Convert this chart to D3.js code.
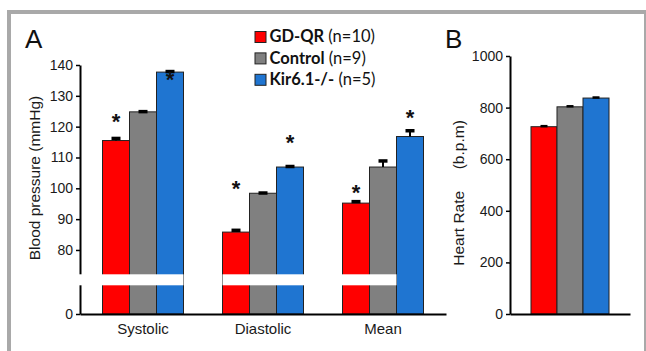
<!DOCTYPE html>
<html>
<head>
<meta charset="utf-8">
<script src="https://cdn.jsdelivr.net/npm/d3@7"></script>
<style>
    body { margin: 0; background: #fff; }
    svg { display: block; font-family: "Liberation Sans", Arial, sans-serif; }
</style>
</head>
<body>
<div class="container"></div>
<script>
// values
var groups = ["Systolic", "Diastolic", "Mean"];
var series = ["GD-QR", "Control", "Kir6.1-/-"];
var seriesN = ["(n=10)", "(n=9)", "(n=5)"];
var colors = ["#ff0000", "#808080", "#1f75d1"];

var bpMeans = [
    [115.5, 124.8, 137.7],   // Systolic
    [85.8, 98.4, 106.9],     // Diastolic
    [95.2, 106.9, 116.8]     // Mean
];
var bpErrors = [
    [1.0, 0.4, 0.5],
    [0.9, 0.4, 0.5],
    [0.8, 2.3, 2.2]
];
var bpTicks = [0, 80, 90, 100, 110, 120, 130, 140];

// significance stars: group index, series index, level (mmHg)
var starGroup = [0, 0, 1, 1, 2, 2];
var starSeries = [0, 2, 0, 2, 0, 2];
var starLevel = [123.1, 136.6, 101.4, 116.3, 100.1, 124.4];

var hrMeans = [726, 803, 837];
var hrErrors = [4, 4, 4];
var hrTicks = [0, 200, 400, 600, 800, 1000];

var W = 646, H = 351;
var FONT = "'Liberation Sans', Arial, sans-serif";
var svg = d3.select(".container").append("svg")
    .attr("width", W)
    .attr("height", H);

// grey frame (top, left, right)
svg.append("rect").attr("x", 7).attr("y", 10).attr("width", W - 7).attr("height", 4).attr("fill", "#a9a9a9");
svg.append("rect").attr("x", 7).attr("y", 10).attr("width", 4).attr("height", H - 10).attr("fill", "#a9a9a9");
svg.append("rect").attr("x", 644).attr("y", 10).attr("width", 2).attr("height", H - 10).attr("fill", "#a9a9a9");

// ---------- panel A ----------
var xA = d3.scaleBand().domain(groups).range([80, 446])
    .paddingInner(0.325).paddingOuter(0.1875);
var xInA = d3.scaleBand().domain(series).range([0, xA.bandwidth()]);
var yA = d3.scaleLinear().domain([0, 70, 140]).range([314, 280.8, 65]);

var gA = svg.append("g");

groups.forEach(function (grp, gi) {
    var bars = gA.append("g").attr("transform", "translate(" + xA(grp) + ",0)");
    bars.selectAll("rect")
        .data(series)
        .enter().append("rect")
        .attr("x", function (d) { return xInA(d); })
        .attr("y", function (d, i) { return yA(bpMeans[gi][i]); })
        .attr("width", xInA.bandwidth())
        .attr("height", function (d, i) { return yA(0) - yA(bpMeans[gi][i]); })
        .attr("fill", function (d, i) { return colors[i]; })
        .attr("stroke", "#222")
        .attr("stroke-width", 1);

    series.forEach(function (s, i) {
        var cx = xInA(s) + xInA.bandwidth() / 2;
        var top = yA(bpMeans[gi][i] + bpErrors[gi][i]);
        bars.append("line")
            .attr("x1", cx).attr("x2", cx)
            .attr("y1", yA(bpMeans[gi][i])).attr("y2", top)
            .attr("stroke", "#000").attr("stroke-width", 2);
        bars.append("line")
            .attr("x1", cx - 4.5).attr("x2", cx + 4.5)
            .attr("y1", top + 1).attr("y2", top + 1)
            .attr("stroke", "#000").attr("stroke-width", 3.5);
    });
});

// axis break
var breakY = yA(70);
gA.append("rect")
    .attr("x", 78)
    .attr("y", breakY - 6.5)
    .attr("width", xA(groups[0]) + xA.bandwidth() - 78)
    .attr("height", 11)
    .attr("fill", "#fff");
gA.append("rect")
    .attr("x", xA(groups[1]))
    .attr("y", breakY - 6.5)
    .attr("width", xA(groups[2]) + xInA(series[1]) + xInA.bandwidth() - xA(groups[1]))
    .attr("height", 11)
    .attr("fill", "#fff");

gA.selectAll(".star")
    .data(starGroup)
    .enter().append("text")
    .attr("class", "star")
    .attr("x", function (g, k) { return xA(groups[g]) + xInA(series[starSeries[k]]) + xInA.bandwidth() / 2; })
    .attr("y", function (g, k) { return yA(starLevel[k]) + 12; })
    .attr("text-anchor", "middle")
    .attr("font-family", FONT)
    .attr("font-size", 22)
    .attr("font-weight", "bold")
    .attr("fill", "#111")
    .text("*");

var yAxisA = gA.append("g")
    .attr("transform", "translate(80,0)")
    .call(d3.axisLeft(yA).tickValues(bpTicks).tickSize(4).tickSizeOuter(0).tickPadding(3));

var xAxisA = gA.append("g")
    .attr("transform", "translate(0,314)")
    .call(d3.axisBottom(xA).tickSize(0).tickSizeOuter(0).tickPadding(9));

// white gap in the y axis line
gA.append("rect")
    .attr("x", 77)
    .attr("y", breakY - 6.5)
    .attr("width", 6)
    .attr("height", 11)
    .attr("fill", "#fff");

gA.append("text")
    .attr("transform", "translate(40,178) rotate(-90)")
    .attr("text-anchor", "middle")
    .attr("font-family", FONT)
    .attr("font-size", 15.5)
    .attr("fill", "#1a1a1a")
    .text("Blood pressure (mmHg)");

gA.append("text")
    .attr("x", 25).attr("y", 48)
    .attr("font-family", FONT)
    .attr("font-size", 26)
    .attr("fill", "#111")
    .text("A");

// ---------- panel B ----------
var xB = d3.scaleBand().domain(["HR"]).range([510, 630]).paddingOuter(0.269);
var xInB = d3.scaleBand().domain(series).range([0, xB.bandwidth()]);
var yB = d3.scaleLinear().domain([0, 1000]).range([314, 56]);

var gB = svg.append("g");
var barsB = gB.append("g").attr("transform", "translate(" + xB("HR") + ",0)");

barsB.selectAll("rect")
    .data(series)
    .enter().append("rect")
    .attr("x", function (d) { return xInB(d); })
    .attr("y", function (d, i) { return yB(hrMeans[i]); })
    .attr("width", xInB.bandwidth())
    .attr("height", function (d, i) { return yB(0) - yB(hrMeans[i]); })
    .attr("fill", function (d, i) { return colors[i]; })
    .attr("stroke", "#222")
    .attr("stroke-width", 1);

series.forEach(function (s, i) {
    var cx = xInB(s) + xInB.bandwidth() / 2;
    var top = yB(hrMeans[i] + hrErrors[i]);
    barsB.append("line")
        .attr("x1", cx - 3.5).attr("x2", cx + 3.5)
        .attr("y1", top + 0.5).attr("y2", top + 0.5)
        .attr("stroke", "#000").attr("stroke-width", 2.5);
});

gB.append("g")
    .attr("transform", "translate(510,0)")
    .call(d3.axisLeft(yB).tickValues(hrTicks).tickSize(4).tickSizeOuter(0).tickPadding(3)
        .tickFormat(d3.format("d")));

gB.append("g")
    .attr("transform", "translate(0,314)")
    .call(d3.axisBottom(xB).tickSize(0).tickSizeOuter(0).tickFormat(""));

gB.append("text")
    .attr("transform", "translate(463.5,193) rotate(-90)")
    .attr("text-anchor", "middle")
    .attr("font-family", FONT)
    .attr("font-size", 15.5)
    .attr("fill", "#1a1a1a")
    .style("white-space", "pre")
    .text("Heart Rate     (b.p.m)");

gB.append("text")
    .attr("x", 445).attr("y", 48)
    .attr("font-family", FONT)
    .attr("font-size", 26)
    .attr("fill", "#111")
    .text("B");

// shared axis styling
svg.selectAll(".domain").attr("stroke", "#000").attr("stroke-width", 2);
svg.selectAll(".tick line").attr("stroke", "#000").attr("stroke-width", 1.5);
svg.selectAll(".tick text").attr("font-family", FONT).attr("fill", "#1a1a1a").attr("font-size", 14);
xAxisA.selectAll(".tick text").attr("font-size", 15);

// ---------- legend ----------
var legend = svg.append("g").attr("transform", "translate(255,31.5)");
var rows = legend.selectAll("g")
    .data(series)
    .enter().append("g")
    .attr("transform", function (d, i) { return "translate(0," + (i * 21.4) + ")"; });

rows.append("rect")
    .attr("width", 11).attr("height", 11)
    .attr("fill", function (d, i) { return colors[i]; })
    .attr("stroke", "#222").attr("stroke-width", 1);

var lt = rows.append("text")
    .attr("x", 14.5).attr("y", 10.8)
    .attr("font-family", "Lato, 'Open Sans', sans-serif")
    .attr("font-size", 16.5)
    .attr("fill", "#111");
lt.append("tspan").attr("font-weight", "bold").text(function (d) { return d; });
lt.append("tspan").text(function (d, i) { return " " + seriesN[i]; });
</script>
</body>
</html>
